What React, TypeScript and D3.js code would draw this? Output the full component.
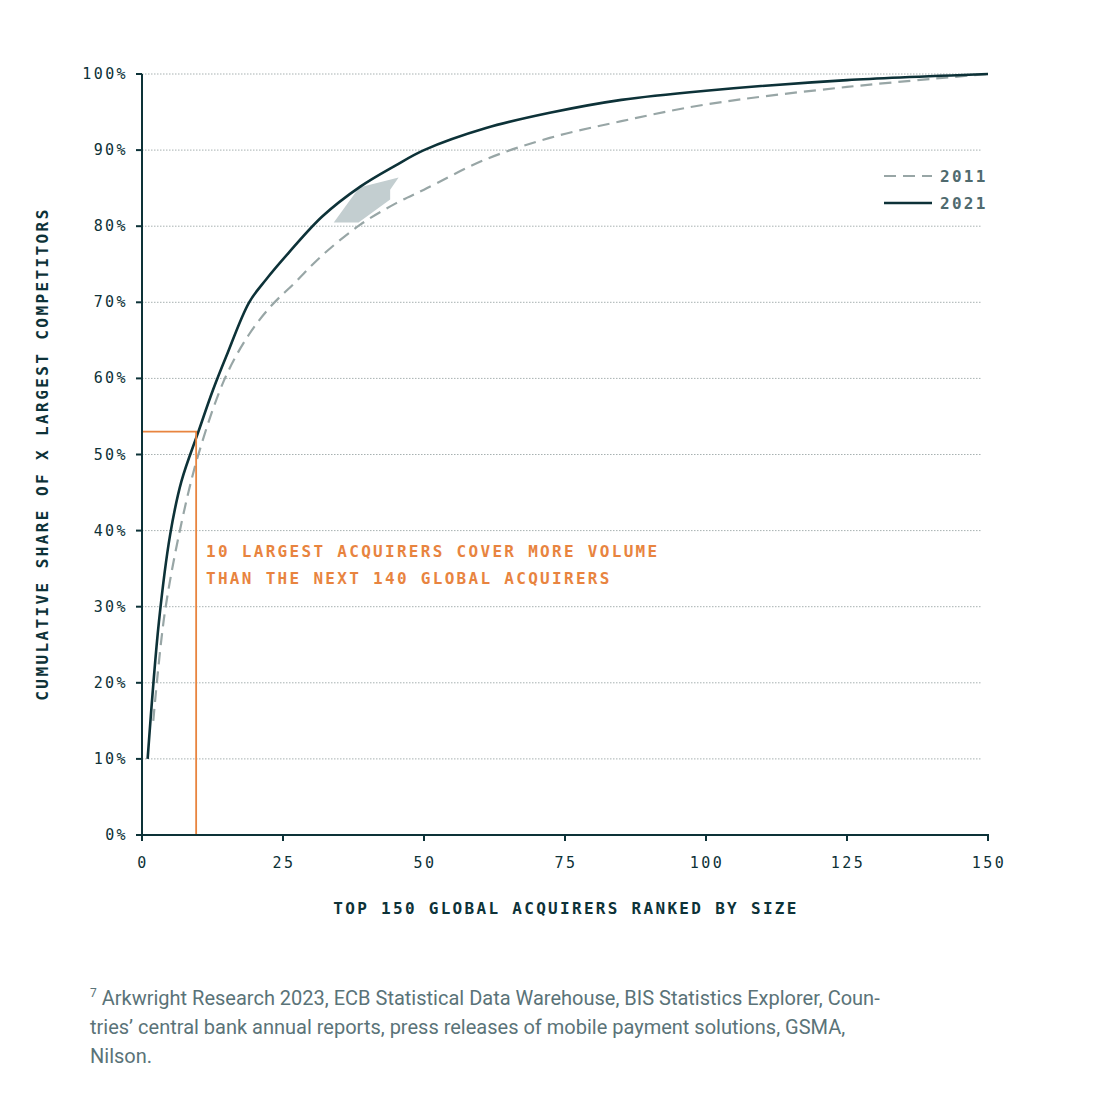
import React from "react";
import * as d3 from "d3";

const ranks2021 = [1, 3, 5, 7, 10, 12.6, 15, 19, 22, 26, 32, 38.7, 45, 50, 61, 72.3, 85, 100, 125, 150];
const vals2021 = [10, 28, 39.5, 46.5, 53, 58.5, 63, 70, 73, 76.5, 81.3, 85.2, 88, 90, 92.9, 94.9, 96.6, 97.8, 99.2, 100];
const ranks2011 = [2, 4, 7, 10, 14.7, 19, 23, 27, 32, 38.7, 45, 50, 61, 72.3, 85, 100, 125, 150];
const vals2011 = [15, 29, 41, 50, 60, 65.8, 69.6, 72.5, 76.2, 80.2, 83, 84.8, 88.8, 91.6, 93.8, 96, 98.3, 100];
const yTicks = [0, 10, 20, 30, 40, 50, 60, 70, 80, 90, 100];
const xTicks = [0, 25, 50, 75, 100, 125, 150];
const arrowPts: [number, number][] = [[34, 80.5], [38.5, 85.1], [45.5, 86.4], [44, 84.8], [44, 83.5], [38.4, 80.5]];

const DARK = "#0d3238", GREY = "#98a6a6", ORANGE = "#e8843f";
const MONO = "'DejaVu Sans Mono', monospace";

export default function App() {
  const x = d3.scaleLinear().domain([0, 150]).range([142, 988]);
  const y = d3.scaleLinear().domain([0, 100]).range([835, 74]);
  const line = d3.line<[number, number]>().x(d => x(d[0])).y(d => y(d[1])).curve(d3.curveCatmullRom.alpha(0.5));
  const d21 = line(ranks2021.map((r, i) => [r, vals2021[i]]))!;
  const d11 = line(ranks2011.map((r, i) => [r, vals2011[i]]))!;
  const arrow = "M" + arrowPts.map(p => `${x(p[0])},${y(p[1])}`).join("L") + "Z";
  return (
    <svg width={1096} height={1100} style={{ position: "absolute", left: 0, top: 0, background: "#fff" }}>
      {yTicks.filter(t => t > 0).map(t => (
        <line key={t} x1={142} x2={982} y1={y(t)} y2={y(t)} stroke="#a7b1b1" strokeWidth={1} strokeDasharray="1.5,1.5" />
      ))}
      <path d={arrow} fill="#c3ced0" />
      <path d={d11} fill="none" stroke={GREY} strokeWidth={2.2} strokeDasharray="12,7" />
      <path d={d21} fill="none" stroke={DARK} strokeWidth={2.6} />
      <path d={`M${x(0)},${y(53)}H${x(9.6)}V${y(0)}`} fill="none" stroke={ORANGE} strokeWidth={1.8} />
      <line x1={142} x2={142} y1={74} y2={836} stroke={DARK} strokeWidth={2} />
      <line x1={141} x2={989} y1={835} y2={835} stroke={DARK} strokeWidth={2} />
      {yTicks.map(t => (
        <g key={t}>
          <line x1={136} x2={142} y1={y(t)} y2={y(t)} stroke={DARK} strokeWidth={2} />
          <text x={128} y={y(t) + 5} textAnchor="end" fontFamily={MONO} fontSize={15} letterSpacing={2.4} fill={DARK}>{t}%</text>
        </g>
      ))}
      {xTicks.map(t => (
        <g key={t}>
          <line x1={x(t)} x2={x(t)} y1={835} y2={841} stroke={DARK} strokeWidth={2} />
          <text x={x(t) + 1} y={868} textAnchor="middle" fontFamily={MONO} fontSize={15} letterSpacing={2.4} fill={DARK}>{t}</text>
        </g>
      ))}
      <text x={566} y={914} textAnchor="middle" fontFamily={MONO} fontWeight="bold" fontSize={16} letterSpacing={2.3} fill={DARK}>TOP 150 GLOBAL ACQUIRERS RANKED BY SIZE</text>
      <text transform="translate(48,454) rotate(-90)" textAnchor="middle" fontFamily={MONO} fontWeight="bold" fontSize={16} letterSpacing={2.4} fill={DARK}>CUMULATIVE SHARE OF X LARGEST COMPETITORS</text>
      <text fontFamily={MONO} fontWeight="bold" fontSize={16} letterSpacing={2.3} fill={ORANGE}>
        <tspan x={206} y={557}>10 LARGEST ACQUIRERS COVER MORE VOLUME</tspan>
        <tspan x={206} y={584}>THAN THE NEXT 140 GLOBAL ACQUIRERS</tspan>
      </text>
      <line x1={884} x2={932} y1={176} y2={176} stroke={GREY} strokeWidth={2.2} strokeDasharray="12,7" />
      <text x={940} y={182} fontFamily={MONO} fontWeight="bold" fontSize={16} letterSpacing={2.3} fill={"#4f6a6e"}>2011</text>
      <line x1={884} x2={932} y1={203} y2={203} stroke={DARK} strokeWidth={2.6} />
      <text x={940} y={209} fontFamily={MONO} fontWeight="bold" fontSize={16} letterSpacing={2.3} fill={"#4f6a6e"}>2021</text>
      <text fontFamily="Roboto, sans-serif" fontSize={20} fill="#5a7378">
        <tspan x={90} y={1005}><tspan fontSize={12} dy={-8}>7</tspan><tspan dy={8}> Arkwright Research 2023, ECB Statistical Data Warehouse, BIS Statistics Explorer, Coun-</tspan></tspan>
        <tspan x={90} y={1034}>tries’ central bank annual reports, press releases of mobile payment solutions, GSMA,</tspan>
        <tspan x={90} y={1063}>Nilson.</tspan>
      </text>
    </svg>
  );
}
